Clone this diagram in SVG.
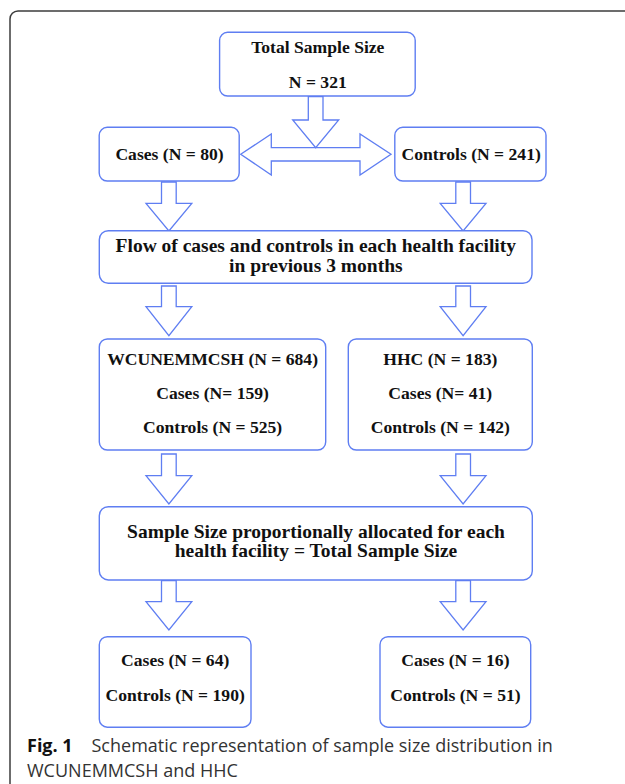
<svg xmlns="http://www.w3.org/2000/svg" width="625" height="784" viewBox="0 0 625 784">
<style>
.box{fill:#fff;stroke:#5f7ef2;stroke-width:1.4}
.arr{fill:#fff;stroke:#5f7ef2;stroke-width:1.3;stroke-linejoin:miter}
.t{font-family:"Liberation Serif","Times New Roman",serif;font-weight:bold;font-size:17.6px;fill:#111;text-anchor:middle}
.tl{font-family:"Liberation Serif","Times New Roman",serif;font-weight:bold;font-size:19.5px;fill:#111;text-anchor:middle}
.cap{font-family:"Open Sans","Noto Sans",sans-serif;font-size:18px;fill:#333}
</style>
<rect width="625" height="784" fill="#fff"/>
<path d="M10,784 V19 A8,8 0 0 1 18,11 H625" fill="none" stroke="#3c3c3c" stroke-width="1.5"/>

<g id="connectors">
<path class="arr" d="M240.7,154.3 L271.3,134 V147.7 H360 V134 L391,154.3 L360,175 V161 H271.3 V175 Z"/>
<path class="arr" d="M308.3,96.5 H323 V120 H338.7 L315.7,147.7 L292.7,120 H308.3 Z"/>
<path class="arr" d="M161.5,182 H176.2 V203.3 H191.8 L168.9,231 L146,203.3 H161.5 Z"/>
<path class="arr" d="M455.8,182 H470.5 V203.3 H486 L463.1,231 L440.2,203.3 H455.8 Z"/>
<path class="arr" d="M161.5,286 H176.2 V306.7 H191.8 L168.9,335.7 L146,306.7 H161.5 Z"/>
<path class="arr" d="M455.8,286 H470.5 V306.7 H486 L463.1,335.7 L440.2,306.7 H455.8 Z"/>
<path class="arr" d="M161.5,454 H176.2 V475.7 H191.8 L168.9,504 L146,475.7 H161.5 Z"/>
<path class="arr" d="M455.8,454 H470.5 V475.7 H486 L463.1,504 L440.2,475.7 H455.8 Z"/>
<path class="arr" d="M161.5,580.7 H176.2 V601.7 H191.8 L168.9,630 L146,601.7 H161.5 Z"/>
<path class="arr" d="M455.8,580.7 H470.5 V601.7 H486 L463.1,630 L440.2,601.7 H455.8 Z"/>
</g>

<g id="total">
<rect class="box" x="219.6" y="32.3" width="195.6" height="63.7" rx="8"/>
<text class="t" x="317.8" y="53.3">Total Sample Size</text>
<text class="t" x="317.8" y="88.3">N = 321</text>
</g>

<g id="cases">
<rect class="box" x="99.2" y="127.3" width="140" height="53.7" rx="8"/>
<text class="t" x="169.5" y="160">Cases (N = 80)</text>
</g>

<g id="controls">
<rect class="box" x="394.8" y="127.3" width="151.2" height="53.7" rx="8"/>
<text class="t" x="471.2" y="160">Controls (N = 241)</text>
</g>

<g id="flow">
<rect class="box" x="99.3" y="230.7" width="432.7" height="52.6" rx="9"/>
<text class="tl" x="315.8" y="252.3">Flow of cases and controls in each health facility</text>
<text class="tl" x="315.8" y="271.7">in previous 3 months</text>
</g>

<g id="wcu">
<rect class="box" x="99.3" y="339" width="226.4" height="111" rx="8"/>
<text class="t" x="212.6" y="364.5">WCUNEMMCSH (N = 684)</text>
<text class="t" x="212.6" y="398.8">Cases (N= 159)</text>
<text class="t" x="212.6" y="433.3">Controls (N = 525)</text>
</g>

<g id="hhc">
<rect class="box" x="348.3" y="339" width="184" height="111" rx="8"/>
<text class="t" x="440.3" y="364.5">HHC (N = 183)</text>
<text class="t" x="440.3" y="398.8">Cases (N= 41)</text>
<text class="t" x="440.3" y="433.3">Controls (N = 142)</text>
</g>

<g id="sample">
<rect class="box" x="99.3" y="506.7" width="433" height="73.3" rx="9"/>
<text class="tl" x="316" y="538.3">Sample Size proportionally allocated for each</text>
<text class="tl" x="316" y="557.3">health facility = Total Sample Size</text>
</g>

<g id="left_alloc">
<rect class="box" x="99.3" y="636.7" width="151.7" height="90.5" rx="8"/>
<text class="t" x="175.2" y="666">Cases (N = 64)</text>
<text class="t" x="175.2" y="700.7">Controls (N = 190)</text>
</g>

<g id="right_alloc">
<rect class="box" x="380" y="636.7" width="150.7" height="90.5" rx="8"/>
<text class="t" x="455.4" y="666">Cases (N = 16)</text>
<text class="t" x="455.4" y="700.7">Controls (N = 51)</text>
</g>

<g id="caption">
<text class="cap" x="27" y="752"><tspan font-weight="bold" fill="#111">Fig. 1</tspan><tspan x="91.5">Schematic representation of sample size distribution in</tspan></text>
<text class="cap" x="27" y="777">WCUNEMMCSH and HHC</text>
</g>
</svg>
